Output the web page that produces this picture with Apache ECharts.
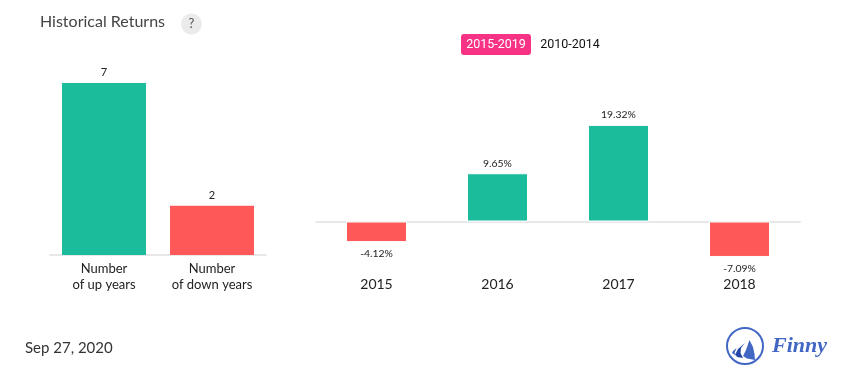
<!DOCTYPE html>
<html><head><meta charset="utf-8">
<style>html,body{margin:0;padding:0;background:#fff}#c{width:855px;height:382px}</style>
<script src="https://cdn.jsdelivr.net/npm/echarts@6/dist/echarts.min.js"></script>
</head><body><div id="c"></div>
<script>
const countCategories = ['Number\nof up years', 'Number\nof down years'];
const countValues = [7, 2];
const yearCategories = ['2015', '2016', '2017', '2018'];
const yearReturns = [-4.12, 9.65, 19.32, -7.09];
const GREEN = '#1abc9c', RED = '#ff5858', FONT = 'Lato';

const chart = echarts.init(document.getElementById('c'), null, {renderer: 'canvas'});
chart.setOption({
  animation: false,
  backgroundColor: '#fff',
  textStyle: {fontFamily: FONT},
  grid: [
    {left: 50, width: 216, top: 83, height: 172},
    {left: 316, width: 484, top: 121.5, height: 150}
  ],
  xAxis: [
    {gridIndex: 0, type: 'category', data: countCategories,
      axisLine: {lineStyle: {color: '#e8e8e8', width: 2}}, axisTick: {show: false},
      axisLabel: {interval: 0, color: '#222', fontFamily: FONT, fontSize: 13, lineHeight: 16, margin: 6}},
    {gridIndex: 1, type: 'category', data: yearCategories, position: 'bottom',
      axisLine: {show: false, onZero: false}, axisTick: {show: false},
      axisLabel: {interval: 0, color: '#222', fontFamily: FONT, fontSize: 14, margin: 6}},
    {gridIndex: 1, type: 'category', data: yearCategories,
      axisLine: {show: true, onZero: true, lineStyle: {color: '#e8e8e8', width: 2}},
      axisTick: {show: false}, axisLabel: {show: false}}
  ],
  yAxis: [
    {gridIndex: 0, type: 'value', min: 0, max: 7, show: false},
    {gridIndex: 1, type: 'value', min: -10, max: 20, show: false}
  ],
  series: [
    {type: 'bar', xAxisIndex: 0, yAxisIndex: 0, barWidth: 84,
      data: countValues.map((v, i) => ({value: v, itemStyle: {color: i === 0 ? GREEN : RED}})),
      label: {show: true, position: 'top', distance: 5, color: '#222', fontFamily: FONT, fontSize: 11}},
    {type: 'bar', xAxisIndex: 1, yAxisIndex: 1, barWidth: 61, z: 5,
      data: yearReturns.map(v => ({
        value: v,
        itemStyle: {color: v >= 0 ? GREEN : RED, borderColor: '#fff', borderWidth: 1},
        label: {position: v >= 0 ? 'top' : 'bottom', distance: v >= 0 ? 5 : 7}
      })),
      label: {show: true, color: '#222', fontFamily: FONT, fontSize: 10.4, formatter: p => p.value + '%'}}
  ],
  graphic: [
    {type: 'text', left: 40, top: 14, style: {text: 'Historical Returns', font: '16px Lato', fill: '#444'}},
    {type: 'circle', shape: {cx: 191.5, cy: 24, r: 10.5}, style: {fill: '#ebebeb'}},
    {type: 'text', x: 191.5, y: 24, style: {text: '?', font: '13px Lato', fill: '#555', align: 'center', verticalAlign: 'middle'}},
    {type: 'rect', shape: {x: 461, y: 34, width: 70, height: 21, r: 3}, style: {fill: '#f83284'}},
    {type: 'text', x: 496, y: 44.5, style: {text: '2015-2019', font: '12.5px Roboto', fill: '#fff', align: 'center', verticalAlign: 'middle'}},
    {type: 'text', x: 570, y: 44.5, style: {text: '2010-2014', font: '12.5px Roboto', fill: '#111', align: 'center', verticalAlign: 'middle'}},
    {type: 'text', left: 25, top: 341, style: {text: 'Sep 27, 2020', font: '15px Lato', fill: '#333'}},
    {type: 'circle', shape: {cx: 745, cy: 346, r: 18}, style: {fill: 'none', stroke: '#4166c4', lineWidth: 2}},
    {type: 'polygon', shape: {points: [[749.5, 340], [753, 347], [754.5, 354], [755, 360], [747, 358.5], [743, 356], [746, 350]]}, style: {fill: '#4166c4'}},
    {type: 'polygon', shape: {points: [[745, 343], [741, 348], [740.5, 353], [743, 358], [737, 357], [735.5, 354], [738, 349]]}, style: {fill: '#2346a8'}},
    {type: 'polygon', shape: {points: [[736.5, 348], [733, 351], [732, 353], [738, 357], [734.5, 353]]}, style: {fill: '#4166c4'}},
    {type: 'text', x: 772, y: 346, style: {text: 'Finny', font: 'italic bold 22px "Liberation Serif"', fill: '#4166c4', verticalAlign: 'middle'}}
  ]
});
</script></body></html>
